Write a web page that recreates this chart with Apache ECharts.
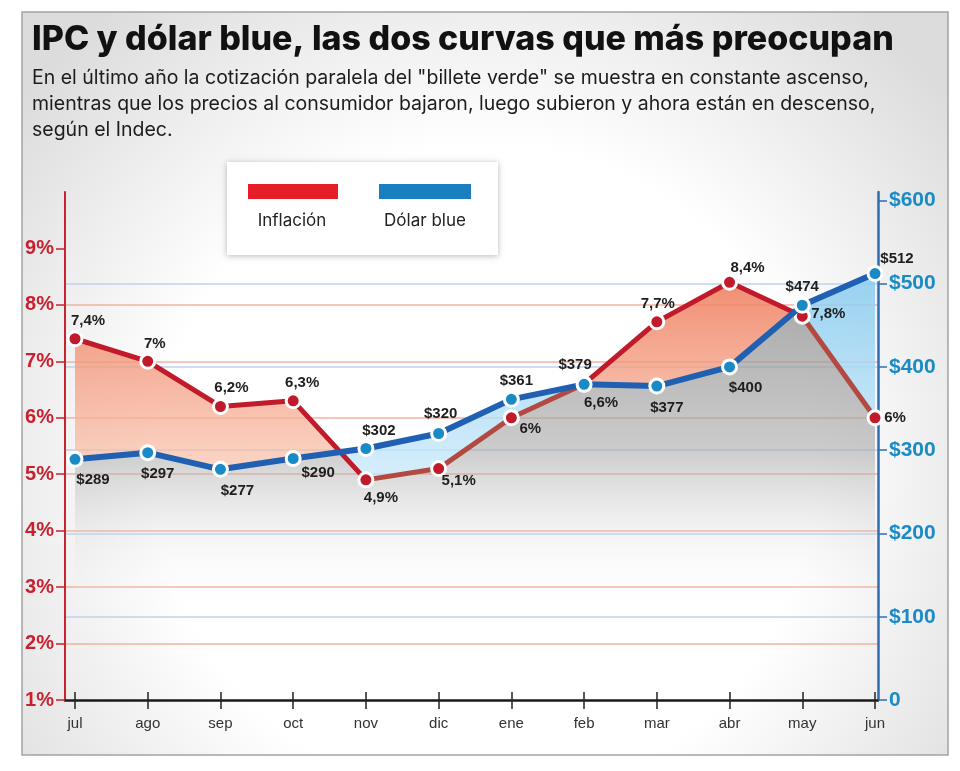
<!DOCTYPE html>
<html><head><meta charset="utf-8">
<script src="https://cdn.jsdelivr.net/npm/echarts@6/dist/echarts.min.js"></script>
<style>html,body{margin:0;padding:0;background:#fff}#c{width:960px;height:771px}</style>
</head><body><div id="c"></div>
<script>
// ---- data ----
const months = ['jul','ago','sep','oct','nov','dic','ene','feb','mar','abr','may','jun'];
const inflacion = [7.4, 7, 6.2, 6.3, 4.9, 5.1, 6, 6.6, 7.7, 8.4, 7.8, 6];
const dolarBlue = [289, 297, 277, 290, 302, 320, 361, 379, 377, 400, 474, 512];
const seriesNames = ['Inflación', 'Dólar blue'];
// axis ranges and tick values (left: %, right: $)
const L_MIN = 1, L_MAX = 10, L_STEP = 1;
const R_MIN = 0, R_MAX = 610, R_STEP = 100;
const leftTicks = [1, 2, 3, 4, 5, 6, 7, 8, 9];
const rightTicks = [0, 100, 200, 300, 400, 500, 600];

// ---- styling config ----
const FONT = "Inter, 'Liberation Sans', Arial, sans-serif";
const AXFONT = "'Liberation Sans', Arial, sans-serif";
const NARROW = "'Liberation Sans Narrow', 'Liberation Sans', Arial, sans-serif";
const RED = '#c01a2b', RED_MUTED = '#b24a42', BLUE_LINE = '#1f60b3', BLUE_DOT = '#1a8ac6';
const infLabelOffset = [[13,-18],[7,-17],[11,-19],[9,-18],[15,18],[20,12],[19,11],[17,19],[1,-18],[18,-14],[26,-2],[20,0]];
const dolLabelOffset = [[18,21],[10,21],[17,22],[25,14],[13,-18],[2,-20],[5,-19],[-9,-20],[10,22],[16,21],[0,-18],[22,-15]];

// dollar value expressed on the left (%) scale, so both lines share one frame for the fills
const toLeft = d => L_MIN + (d - R_MIN) * (L_MAX - L_MIN) / (R_MAX - R_MIN);
const dv = dolarBlue.map(toLeft);
const diff = inflacion.map((v, i) => v - dv[i]);

// break points incl. crossings
const breaks = [];
const crossings = [];
for (let i = 0; i < months.length; i++) {
  breaks.push({x: i, lo: Math.min(inflacion[i], dv[i]), pos: Math.max(diff[i], 0), neg: Math.max(-diff[i], 0)});
  if (i < months.length - 1 && diff[i] * diff[i + 1] < 0) {
    const t = diff[i] / (diff[i] - diff[i + 1]);
    const y = inflacion[i] + t * (inflacion[i + 1] - inflacion[i]);
    breaks.push({x: i + t, lo: y, pos: 0, neg: 0});
    crossings.push(i + t);
  }
}
// pieces for the red line: muted where it runs below the dollar line
const pieces = [];
let start = -1, under = diff[0] < 0;
crossings.concat([months.length + 1]).forEach(c => {
  pieces.push({gte: start, lt: c, color: under ? RED_MUTED : RED});
  start = c; under = !under;
});

const fills = [
  {type:'linear', x:0, y:0, x2:0, y2:1, colorStops:[
    {offset:0, color:'rgba(150,150,150,0.78)'},
    {offset:0.35, color:'rgba(168,168,168,0.6)'},
    {offset:0.62, color:'rgba(220,220,220,0.18)'},
    {offset:0.8, color:'rgba(255,255,255,0)'}]},
  {type:'linear', x:0, y:0, x2:0, y2:1, colorStops:[
    {offset:0, color:'rgba(238,122,90,0.85)'},
    {offset:1, color:'rgba(250,200,178,0.7)'}]},
  {type:'linear', x:0, y:0, x2:0, y2:1, colorStops:[
    {offset:0, color:'rgba(135,203,240,0.85)'},
    {offset:1, color:'rgba(200,232,250,0.75)'}]}
];

const fmtPct = v => String(v).replace('.', ',') + '%';

const chart = echarts.init(document.getElementById('c'), null, {renderer: 'canvas'});
const option = {
  animation: false,
  title: {
    text: 'IPC y dólar blue, las dos curvas que más preocupan',
    subtext: 'En el último año la cotización paralela del "billete verde" se muestra en constante ascenso,\nmientras que los precios al consumidor bajaron, luego subieron y ahora están en descenso,\nsegún el Indec.',
    left: 27, top: 16, itemGap: 6,
    textStyle: {fontSize: 34, fontWeight: 800, color: '#111', fontFamily: FONT, lineHeight: 38},
    subtextStyle: {fontSize: 19.5, color: '#1c1c1c', fontFamily: FONT, lineHeight: 26}
  },
  graphic: [
    {type: 'rect', z: -100, silent: true, shape: {x: 22, y: 12, width: 926, height: 743},
     style: {stroke: '#a3a3a3', lineWidth: 1.5,
       fill: {type: 'radial', x: 0.5, y: 0.62, r: 0.8, colorStops: [
         {offset: 0, color: '#ffffff'}, {offset: 0.55, color: '#ffffff'}, {offset: 1, color: '#dcdcdc'}]}}},
    {type: 'group', z: 50, children: [
      {type: 'rect', shape: {x: 227, y: 162, width: 271, height: 93},
       style: {fill: '#fff', shadowBlur: 6, shadowColor: 'rgba(0,0,0,0.28)', shadowOffsetY: 1}},
      {type: 'rect', shape: {x: 248, y: 184, width: 90, height: 15}, style: {fill: '#e41f27'}},
      {type: 'rect', shape: {x: 379, y: 184, width: 92, height: 15}, style: {fill: '#1a7fc0'}},
      {type: 'text', x: 292, y: 221, style: {text: seriesNames[0], fill: '#222', font: '17px ' + FONT, align: 'center', verticalAlign: 'middle'}},
      {type: 'text', x: 425, y: 221, style: {text: seriesNames[1], fill: '#222', font: '17px ' + FONT, align: 'center', verticalAlign: 'middle'}}
    ]}
  ],
  grid: [
    {left: 65, right: 82, top: 192, bottom: 71, outerBoundsMode: 'none'},
    {left: 75, right: 85, top: 192, bottom: 71, outerBoundsMode: 'none'}
  ],
  xAxis: [
    {gridIndex: 0, type: 'value', min: 0, max: 1, axisLine: {show: true, onZero: false, lineStyle: {color: '#1a1a1a', width: 2.5}},
     axisTick: {show: false}, axisLabel: {show: false}, splitLine: {show: false}},
    {gridIndex: 1, type: 'category', data: months, boundaryGap: false, offset: -8,
     axisLine: {show: false}, axisTick: {show: true, length: 17, interval: 0, lineStyle: {color: '#222', width: 1.5}},
     axisLabel: {margin: 24, fontSize: 15, color: '#333', fontFamily: NARROW, interval: 0}, splitLine: {show: false}},
    {gridIndex: 1, type: 'value', min: 0, max: months.length - 1, show: false}
  ],
  yAxis: [
    {gridIndex: 0, type: 'value', position: 'left', min: L_MIN, max: L_MAX, interval: L_STEP,
     axisLine: {show: true, lineStyle: {color: '#c4262f', width: 2}},
     axisTick: {show: true, length: 9, customValues: leftTicks, lineStyle: {color: '#c4262f', width: 1.5}},
     axisLabel: {margin: 11, fontSize: 20, fontWeight: 'bold', color: '#c8202f', fontFamily: AXFONT,
       customValues: leftTicks, formatter: v => v + '%'},
     splitLine: {show: true, showMinLine: false, showMaxLine: false, lineStyle: {color: '#f2b2a2', width: 1.5}}},
    {gridIndex: 0, type: 'value', position: 'right', min: R_MIN, max: R_MAX, interval: R_STEP,
     axisLine: {show: true, lineStyle: {color: '#2e6db6', width: 2.5}},
     axisTick: {show: true, length: 9, customValues: rightTicks, lineStyle: {color: '#2e6db6', width: 1.5}},
     axisLabel: {margin: 11, fontSize: 21, fontWeight: 'bold', color: '#1b8bc6', fontFamily: AXFONT,
       customValues: rightTicks, formatter: v => (v === 0 ? '0' : '$' + v)},
     splitLine: {show: true, showMinLine: false, showMaxLine: false, lineStyle: {color: '#bdd3ee', width: 1.5}}},
    {gridIndex: 1, type: 'value', min: L_MIN, max: L_MAX, show: false},
    {gridIndex: 1, type: 'value', min: R_MIN, max: R_MAX, show: false}
  ],
  visualMap: {type: 'piecewise', show: false, seriesIndex: 1, dimension: 0, pieces: pieces},
  series: [
    {type: 'custom', xAxisIndex: 2, yAxisIndex: 2, z: 1, silent: true,
     data: [[0, L_MIN, 0], [0, L_MIN, 1], [0, L_MIN, 2]], encode: {x: 0, y: 1},
     renderItem: function (params, api) {
       const kind = api.value(2);
       let pts;
       if (kind === 0) {
         pts = breaks.map(b => api.coord([b.x, b.lo]));
         pts.push(api.coord([months.length - 1, L_MIN]), api.coord([0, L_MIN]));
       } else {
         const key = kind === 1 ? 'pos' : 'neg';
         pts = breaks.map(b => api.coord([b.x, b.lo + b[key]]))
           .concat(breaks.slice().reverse().map(b => api.coord([b.x, b.lo])));
       }
       return {type: 'polygon', shape: {points: pts}, style: {fill: fills[kind]}};
     }},
    {name: seriesNames[0], type: 'line', xAxisIndex: 1, yAxisIndex: 2, z: 3, data: inflacion,
     showSymbol: false, lineStyle: {width: 5}},
    {name: seriesNames[0], type: 'line', xAxisIndex: 1, yAxisIndex: 2, z: 5,
     data: inflacion.map((v, i) => ({value: v, label: {offset: infLabelOffset[i]}})),
     symbol: 'circle', symbolSize: 14, lineStyle: {width: 0, opacity: 0},
     itemStyle: {color: RED, borderColor: '#fff', borderWidth: 3},
     label: {show: true, position: 'inside', align: 'center', verticalAlign: 'middle',
       color: '#1e1e1e', fontSize: 15, fontWeight: 'bold', fontFamily: NARROW,
       formatter: p => fmtPct(p.value)}},
    {name: seriesNames[1], type: 'line', xAxisIndex: 1, yAxisIndex: 3, z: 6,
     data: dolarBlue.map((v, i) => ({value: v, label: {offset: dolLabelOffset[i]}})),
     symbol: 'circle', symbolSize: 14, lineStyle: {width: 6, color: BLUE_LINE},
     itemStyle: {color: BLUE_DOT, borderColor: '#fff', borderWidth: 3},
     label: {show: true, position: 'inside', align: 'center', verticalAlign: 'middle',
       color: '#1e1e1e', fontSize: 15, fontWeight: 'bold', fontFamily: NARROW,
       formatter: p => '$' + p.value}}
  ]
};
chart.setOption(option);
</script>
</body></html>
